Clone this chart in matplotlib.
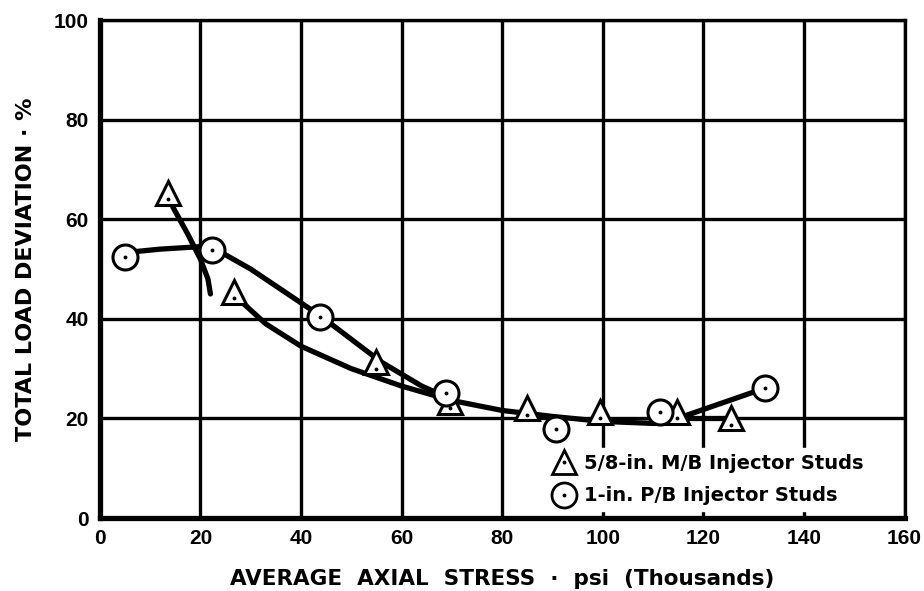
import matplotlib
matplotlib.use("Agg")
import matplotlib.pyplot as plt
from matplotlib.lines import Line2D
from matplotlib.legend_handler import HandlerTuple

# --- data ---
tri_x = [13.5, 26.6, 55.0, 69.6, 84.9, 99.4, 114.7, 125.4]
tri_y = [65.3, 45.4, 31.3, 23.3, 22.0, 21.3, 21.3, 20.0]
circ_x = [5.0, 22.3, 43.7, 68.8, 90.7, 111.3, 132.2]
circ_y = [52.4, 53.8, 40.4, 25.1, 17.9, 21.3, 26.1]

# hand-drawn fitted curves
curveA_x = [14.5, 17.5, 20.0, 21.5, 22.0]
curveA_y = [62.5, 57.0, 52.0, 48.0, 45.0]
curveB_x = [5.0, 12.0, 20.0, 23.0, 30.0, 44.0, 56.0, 64.0, 70.0]
curveB_y = [53.3, 54.0, 54.5, 54.0, 50.0, 40.5, 31.3, 26.5, 23.8]
curveC_x = [27.0, 33.0, 40.0, 50.0, 60.0, 70.0, 80.0, 90.0, 100.0, 110.0, 112.0]
curveC_y = [44.5, 39.0, 34.5, 30.0, 26.5, 23.6, 21.6, 20.4, 19.4, 19.0, 19.0]
curveD_x = [112.0, 132.0]
curveD_y = [19.0, 26.0]
curveE_x = [113.0, 126.0]
curveE_y = [20.0, 20.0]

x_ticks = [0, 20, 40, 60, 80, 100, 120, 140, 160]
y_ticks = [0, 20, 40, 60, 80, 100]

plt.rcParams['font.family'] = ['Liberation Sans', 'DejaVu Sans']

fig = plt.figure(figsize=(9.24, 5.91), dpi=100)
ax = fig.add_axes([0.108, 0.1235, 0.871, 0.8425])
ax.set_xlim(0, 160)
ax.set_ylim(0, 100)

for cx, cy in [(curveA_x, curveA_y), (curveB_x, curveB_y), (curveC_x, curveC_y),
               (curveD_x, curveD_y), (curveE_x, curveE_y)]:
    ax.plot(cx, cy, color='black', lw=3.8, solid_capstyle='round', zorder=3)

ax.plot(tri_x, tri_y, ls='none', marker='^', ms=17, mfc='white', mec='black', mew=2.2, zorder=4)
ax.plot(tri_x, [v - 1.3 for v in tri_y], ls='none', marker='o', ms=1.8, color='black', zorder=5)
ax.plot(circ_x, circ_y, ls='none', marker='o', ms=18, mfc='white', mec='black', mew=2.2, zorder=4)
ax.plot(circ_x, circ_y, ls='none', marker='o', ms=1.8, color='black', zorder=5)

ax.set_xticks(x_ticks)
ax.set_yticks(y_ticks)
ax.grid(True, color='black', lw=2.4)
ax.set_axisbelow(True)
ax.tick_params(direction='in', length=6, width=2, labelsize=15, pad=8)
for lab in ax.get_xticklabels() + ax.get_yticklabels():
    lab.set_fontweight('bold')
for s in ['left', 'bottom']:
    ax.spines[s].set_linewidth(3.8)
for s in ['top', 'right']:
    ax.spines[s].set_linewidth(2.4)

ax.set_xlabel('AVERAGE  AXIAL  STRESS  ·  psi  (Thousands)', fontsize=15.5, fontweight='bold',
              family='DejaVu Sans', labelpad=15)
ax.set_ylabel('TOTAL LOAD DEVIATION · %', fontsize=16, fontweight='bold',
              family='DejaVu Sans', labelpad=13)

h_tri = Line2D([], [], ls='none', marker='^', ms=17, mfc='white', mec='black', mew=2.0)
h_cir = Line2D([], [], ls='none', marker='o', ms=18, mfc='white', mec='black', mew=2.0)
h_dot = Line2D([], [], ls='none', marker='o', ms=1.8, color='black')
leg = ax.legend([(h_tri, h_dot), (h_cir, h_dot)],
                ['5/8-in. M/B Injector Studs', '1-in. P/B Injector Studs'],
                handler_map={tuple: HandlerTuple(ndivide=1, pad=0)},
                loc='lower right', bbox_to_anchor=(0.968, -0.006), frameon=True,
                fancybox=False, framealpha=1, facecolor='white', edgecolor='white',
                prop={'weight': 'bold', 'size': 14, 'family': 'DejaVu Sans'},
                handlelength=1.0, handletextpad=0.5,
                labelspacing=0.7, borderpad=0.3)
leg.set_zorder(2.4)

fig.savefig('out.png', dpi=100)
